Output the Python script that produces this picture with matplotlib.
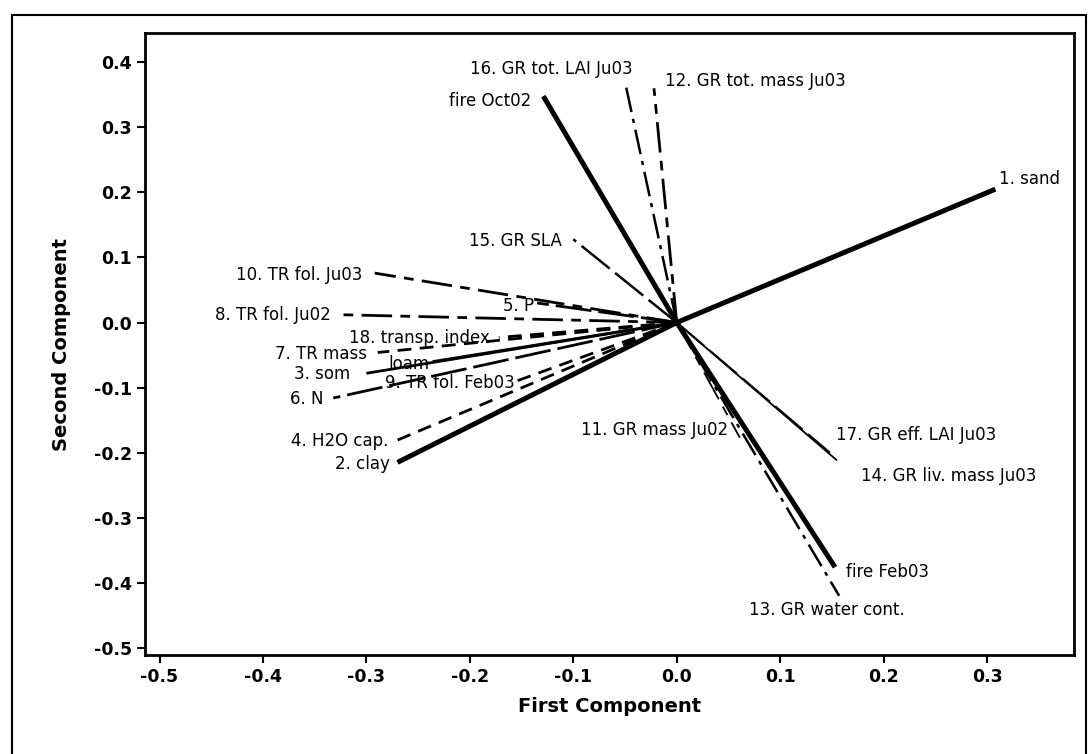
import matplotlib
matplotlib.use("Agg")
import matplotlib.pyplot as plt
import numpy as np
from matplotlib.patches import Rectangle

plt.rcParams['font.family'] = ['DejaVu Sans']
plt.rcParams['axes.unicode_minus'] = False
plt.rcParams['lines.scale_dashes'] = False

# loadings on the first two principal components
variables = [
    "1. sand", "2. clay", "3. som", "4. H2O cap.", "5. P", "6. N",
    "7. TR mass", "8. TR fol. Ju02", "9. TR fol. Feb03", "10. TR fol. Ju03",
    "11. GR mass Ju02", "12. GR tot. mass Ju03", "13. GR water cont.",
    "14. GR liv. mass Ju03", "15. GR SLA", "16. GR tot. LAI Ju03",
    "17. GR eff. LAI Ju03", "18. transp. index", "loam", "fire Oct02", "fire Feb03",
]
pc1 = [0.308, -0.270, -0.300, -0.272, -0.135, -0.332,
       -0.289, -0.324, -0.155, -0.292,
       0.061, -0.022, 0.157,
       0.155, -0.100, -0.050,
       0.148, -0.172, -0.236, -0.129, 0.153]
pc2 = [0.205, -0.215, -0.078, -0.182, 0.030, -0.116,
       -0.046, 0.012, -0.090, 0.076,
       -0.177, 0.360, -0.420,
       -0.212, 0.128, 0.370,
       -0.200, -0.023, -0.060, 0.348, -0.376]
ticks_x = [-0.5, -0.4, -0.3, -0.2, -0.1, 0.0, 0.1, 0.2, 0.3]
ticks_y = [-0.5, -0.4, -0.3, -0.2, -0.1, 0.0, 0.1, 0.2, 0.3, 0.4]

# drawing styles per vector
SOLID = '-'
LONGSHORT = (0, (22, 6, 7, 6))
DASHED = (0, (10, 6))
LONGDASH = (0, (26, 5))
DASHDOT = (0, (18, 5, 3, 5))
styles = [SOLID, SOLID, SOLID, DASHED, LONGDASH, LONGDASH,
          DASHED, LONGSHORT, DASHED, LONGSHORT,
          LONGSHORT, LONGSHORT, DASHDOT,
          SOLID, LONGDASH, DASHDOT,
          LONGDASH, DASHED, SOLID, SOLID, SOLID]
widths = [3.6, 3.6, 2.0, 2.0, 2.0, 2.0,
          2.0, 2.0, 2.0, 2.0,
          1.3, 2.0, 1.8,
          1.3, 1.8, 1.8,
          1.5, 2.0, 2.0, 3.6, 3.6]
# label placement: offset in pixels from the vector tip, horizontal alignment
label_pos = [(4, 10, 'left'), (-8, -2, 'right'), (-16, -1, 'right'), (-7, 0, 'right'),
             (-3, -3, 'right'), (-10, -1, 'right'),
             (-11, -2, 'right'), (-11, 0, 'right'), (-2, -2, 'right'), (-12, -2, 'right'),
             (-12, 8, 'right'), (11, 7, 'left'), (-12, -14, 'center'),
             (24, -16, 'left'), (-11, -2, 'right'), (8, 13, 'right'),
             (6, 18, 'left'), (-9, 0, 'right'), (-3, -2, 'right'), (-12, -5, 'right'),
             (11, -5, 'left')]

fig = plt.figure(figsize=(10.88, 7.54), dpi=100)
ax = fig.add_axes([0.1333, 0.1313, 0.8538, 0.8249])

for name, x, y, ls, lw, (dx, dy, ha) in zip(variables, pc1, pc2, styles, widths, label_pos):
    ax.plot([0, x], [0, y], color='black', linestyle=ls, linewidth=lw,
            solid_capstyle='butt', dash_capstyle='butt')
    ax.annotate(name, (x, y), xytext=(dx, dy), textcoords='offset pixels',
                ha=ha, va='center', fontsize=12, color='black')

ax.set_xlim(-0.514, 0.384)
ax.set_ylim(-0.511, 0.445)
ax.set_xticks(ticks_x)
ax.set_yticks(ticks_y)
ax.set_xticklabels([f"{t:.1f}" for t in ticks_x])
ax.set_yticklabels([f"{t:.1f}" for t in ticks_y])
ax.tick_params(direction='out', length=6, width=1.5, labelsize=12.5)
for lab in ax.get_xticklabels() + ax.get_yticklabels():
    lab.set_fontweight('bold')
for sp in ax.spines.values():
    sp.set_linewidth(2)

ax.set_xlabel("First Component", fontsize=14, fontweight='bold', labelpad=8)
ax.set_ylabel("Second Component", fontsize=14, fontweight='bold', labelpad=16)

# outer frame around the whole graph
fig.patches.append(Rectangle((0.011, -0.02), 0.987, 1.0, transform=fig.transFigure,
                             fill=False, edgecolor='black', linewidth=1.5))

fig.savefig("out.png", dpi=100)
